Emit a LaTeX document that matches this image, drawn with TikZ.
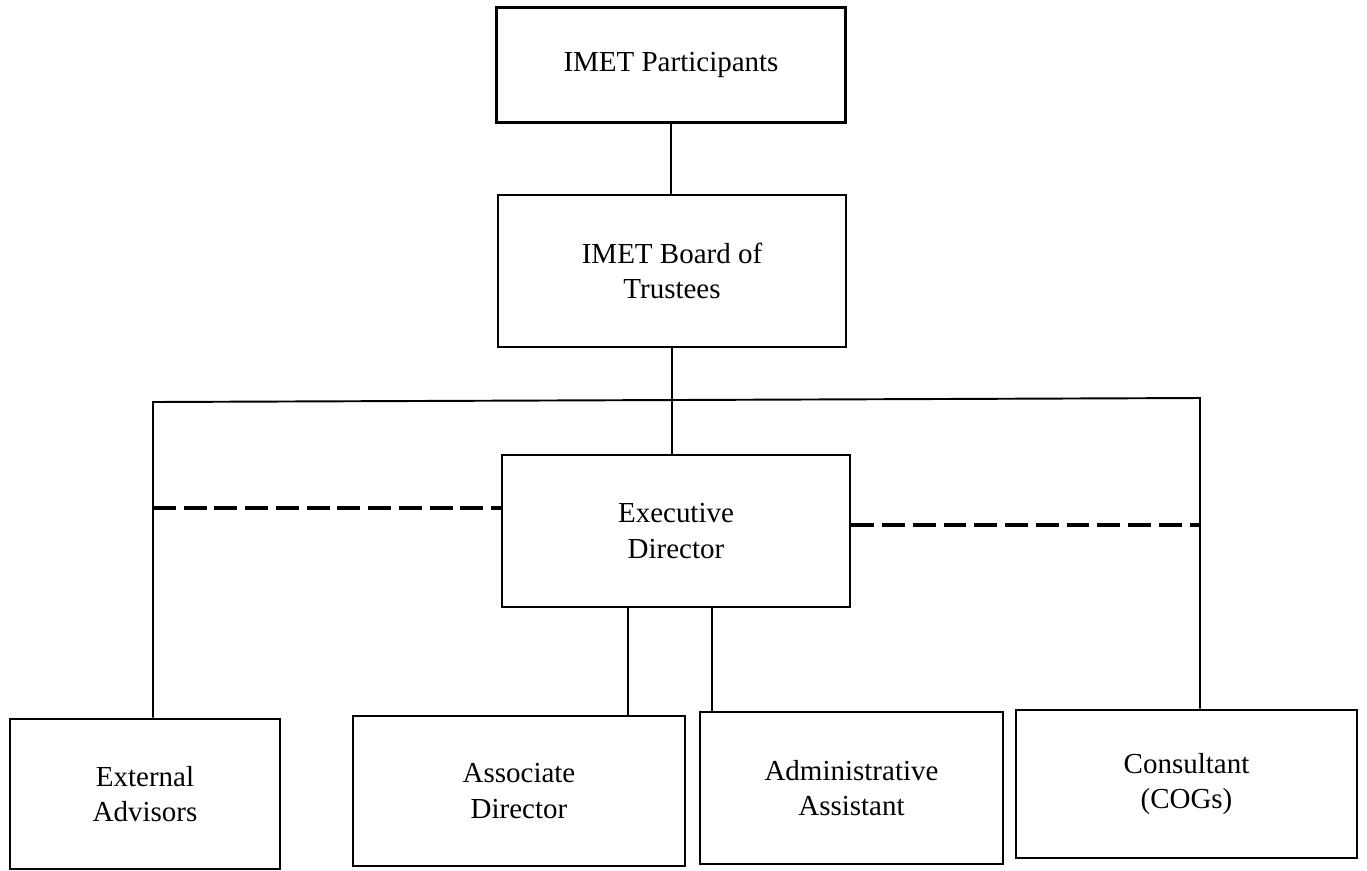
\documentclass[tikz,border=0pt]{standalone}
\usepackage{fontspec}
\setmainfont{Liberation Serif}
\begin{document}
\begin{tikzpicture}[x=0.02cm,y=-0.02cm,line width=1.1pt,
	box/.style={draw,line width=1.5pt,align=center,inner sep=0pt,
		font=\fontsize{16.5}{20.4}\selectfont},
	link/.style={line width=2.3pt,dash pattern=on 13pt off 4.5pt}]
	\useasboundingbox (0,0) rectangle (1367,870);
	\node[box,minimum width=6.98cm,minimum height=2.3cm] (part) at (671,65) {IMET Participants};
	\node[box,minimum width=6.96cm,minimum height=3.04cm] (board) at (672,271) {IMET Board of\\Trustees};
	\node[box,minimum width=6.96cm,minimum height=3.04cm] (exec) at (676,531) {Executive\\Director};
	\node[box,minimum width=5.4cm,minimum height=3cm] (ext) at (145,794) {External\\Advisors};
	\node[box,minimum width=6.64cm,minimum height=3cm] (assoc) at (519,791) {Associate\\Director};
	\node[box,minimum width=6.06cm,minimum height=3.04cm] (admin) at (851.5,788) {Administrative\\Assistant};
	\node[box,minimum width=6.82cm,minimum height=2.96cm] (cons) at (1186.5,784) {Consultant\\(COGs)};
	\coordinate (tl) at (153,402);
	\coordinate (tr) at (1200,398);
	\coordinate (dl) at (153,508);
	\coordinate (dr) at (1200,525);
	\coordinate (al) at (628,0);
	\coordinate (ar) at (712,0);
	\draw (part.south) -- (part.south |- board.north);
	\draw (board.south) -- (board.south |- exec.north);
	\draw (ext.north -| tl) -- (tl) -- (tr) -- (cons.north -| tr);
	\draw[link] (dl) -- (dl -| exec.west);
	\draw[link] (dr -| exec.east) -- (dr);
	\draw (al |- exec.south) -- (al |- assoc.north);
	\draw (ar |- exec.south) -- (ar |- admin.north);
\end{tikzpicture}
\end{document}
